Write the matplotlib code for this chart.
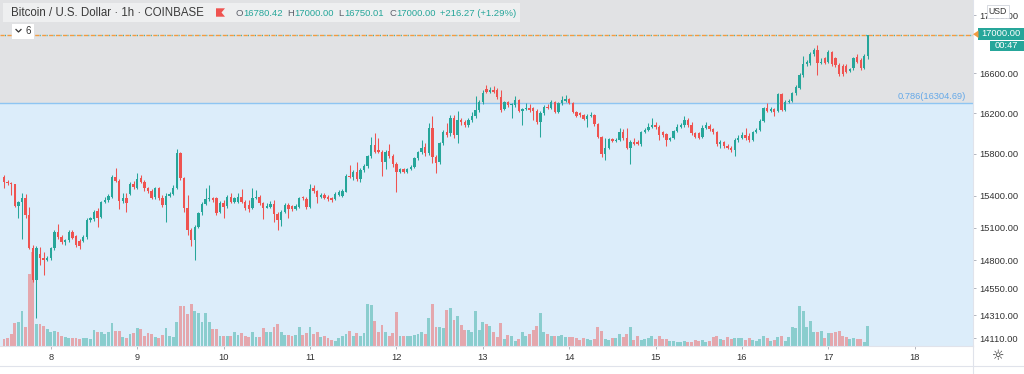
#!/usr/bin/env python3
"""BTC/USD 1h Coinbase candles with volume and the 0.786 fib zone, TradingView look."""
import matplotlib

matplotlib.use("Agg")
import matplotlib.dates as mdates
import matplotlib.pyplot as plt
import matplotlib.ticker as mticker
import matplotlib.transforms as mtransforms
import numpy as np
import pandas as pd
from matplotlib.lines import Line2D
from matplotlib.patches import Polygon, Rectangle

plt.rcParams["font.family"] = ["Liberation Sans", "DejaVu Sans"]

W, H = 1024, 374
PANE_RIGHT = 973      # px, where the price scale starts
PANE_BOTTOM = 345.5   # px, where the time scale starts
UP = "#26a69a"
DOWN = "#ef5350"
TEXT = "#333333"
LINE = "#e0e3eb"

first_bar = "2020-11-07 11:00"

opens = [
    15579, 15532, 15516, 15509, 15305, 15342, 15374, 15217, 14915, 14621,
    14854, 14824, 14803, 14818, 14909, 15056, 15015, 14964, 14985, 15062,
    15025, 14976, 14976, 15015, 15171, 15177, 15258, 15202, 15342, 15358,
    15389, 15579, 15538, 15348, 15374, 15418, 15506, 15475, 15563, 15532,
    15475, 15447, 15383, 15475, 15380, 15311, 15399, 15411, 15469, 15804,
    15563, 15280, 15077, 14985, 15108, 15242, 15320, 15364, 15374, 15380,
    15248, 15333, 15301, 15389, 15342, 15342, 15389, 15342, 15311, 15280,
    15374, 15389, 15327, 15286, 15295, 15317, 15223, 15171, 15248, 15311,
    15301, 15270, 15295, 15380, 15367, 15295, 15469, 15443, 15389, 15405,
    15389, 15380, 15367, 15405, 15399, 15437, 15589, 15579, 15627, 15557,
    15643, 15685, 15778, 15885, 15836, 15820, 15723, 15826, 15778, 15697,
    15627, 15653, 15627, 15653, 15675, 15756, 15814, 15869, 15804, 16048,
    15772, 15723, 15902, 16015, 15999, 16147, 15983, 16130, 16114, 16081,
    16130, 16173, 16230, 16307, 16441, 16414, 16431, 16431, 16363, 16240,
    16307, 16280, 16280, 16330, 16220, 16240, 16253, 16247, 16220, 16114,
    16197, 16263, 16253, 16307, 16207, 16297, 16320, 16340, 16297, 16207,
    16197, 16180, 16141, 16173, 16180, 16088, 15967, 15794, 15859, 15944,
    15925, 15935, 16015, 15951, 15859, 15918, 15912, 15892, 16009, 16032,
    16064, 16081, 16061, 16009, 15990, 15935, 15951, 16022, 16061, 16081,
    16130, 16081, 15999, 15999, 15967, 16055, 16074, 16042, 16009, 15892,
    15912, 15879, 15859, 15836, 15935, 15957, 15983, 15976, 15935, 16009,
    16032, 16120, 16247, 16220, 16240, 16220, 16387, 16230, 16313, 16320,
    16397, 16454, 16583, 16692, 16702, 16794, 16839, 16702, 16753, 16719,
    16815, 16753, 16685, 16678, 16678, 16624, 16651, 16770, 16736, 16651,
    16780.42,
]
highs = [
    15595, 15548, 15525, 15513, 15348, 15421, 15414, 15295, 14939, 14933,
    14924, 14878, 14842, 14924, 15077, 15130, 15037, 15000, 15077, 15077,
    15037, 14994, 15031, 15186, 15202, 15264, 15280, 15348, 15389, 15411,
    15595, 15659, 15557, 15421, 15421, 15532, 15538, 15617, 15595, 15544,
    15484, 15462, 15484, 15484, 15405, 15421, 15437, 15500, 15846, 15820,
    15579, 15405, 15093, 15124, 15248, 15342, 15469, 15500, 15389, 15389,
    15348, 15358, 15405, 15421, 15389, 15421, 15462, 15358, 15358, 15469,
    15453, 15405, 15342, 15327, 15352, 15358, 15248, 15264, 15327, 15327,
    15311, 15317, 15389, 15399, 15389, 15506, 15500, 15453, 15421, 15421,
    15405, 15389, 15430, 15453, 15462, 15601, 15691, 15643, 15723, 15659,
    15697, 15788, 15967, 16000, 15951, 15836, 15836, 15898, 15794, 15717,
    15665, 15659, 15665, 15691, 15772, 15826, 15935, 15902, 16097, 16173,
    15788, 15918, 16032, 16097, 16180, 16180, 16219, 16147, 16130, 16147,
    16207, 16373, 16330, 16431, 16481, 16464, 16474, 16448, 16431, 16320,
    16320, 16300, 16373, 16340, 16253, 16297, 16287, 16263, 16240, 16220,
    16280, 16287, 16330, 16320, 16313, 16373, 16380, 16353, 16307, 16220,
    16207, 16193, 16187, 16213, 16193, 16097, 15976, 15951, 15957, 15957,
    15951, 16055, 16042, 16048, 15935, 15957, 15935, 16022, 16048, 16097,
    16154, 16114, 16081, 16022, 15999, 15967, 16032, 16088, 16097, 16173,
    16147, 16107, 16015, 16009, 16081, 16114, 16088, 16055, 16022, 15935,
    15925, 15892, 15872, 15951, 15983, 16009, 16048, 15999, 16022, 16055,
    16140, 16263, 16297, 16263, 16253, 16397, 16397, 16330, 16340, 16414,
    16481, 16600, 16780, 16736, 16815, 16856, 16891, 16753, 16770, 16839,
    16829, 16770, 16702, 16692, 16692, 16658, 16770, 16794, 16753, 16794,
    17000.00,
]
lows = [
    15475, 15500, 15405, 15295, 15186, 15000, 15186, 14903, 14607, 14282,
    14757, 14666, 14794, 14803, 14893, 15000, 14954, 14945, 14970, 14994,
    14924, 14903, 14964, 15000, 15155, 15161, 15108, 15186, 15327, 15342,
    15380, 15525, 15273, 15327, 15248, 15405, 15462, 15462, 15516, 15447,
    15421, 15364, 15367, 15358, 15295, 15149, 15389, 15405, 15462, 15548,
    15248, 15031, 14933, 14803, 15093, 15217, 15311, 15348, 15342, 15217,
    15233, 15186, 15286, 15327, 15327, 15327, 15327, 15264, 15248, 15273,
    15367, 15311, 15180, 15280, 15286, 15155, 15077, 15115, 15233, 15186,
    15255, 15261, 15280, 15358, 15273, 15286, 15421, 15333, 15374, 15364,
    15348, 15342, 15358, 15399, 15389, 15430, 15563, 15548, 15538, 15532,
    15627, 15665, 15762, 15804, 15804, 15589, 15653, 15756, 15675, 15437,
    15611, 15611, 15614, 15640, 15665, 15739, 15794, 15782, 15788, 15707,
    15611, 15697, 15885, 15967, 15976, 15951, 15902, 16081, 16064, 16064,
    16114, 16147, 16207, 16287, 16397, 16397, 16397, 16340, 16207, 16227,
    16263, 16154, 16263, 16207, 16081, 16230, 16207, 16130, 16088, 15967,
    16180, 16240, 16240, 16197, 16197, 16280, 16307, 16287, 16197, 16160,
    16164, 16127, 16064, 16160, 16074, 15957, 15772, 15739, 15846, 15912,
    15918, 15925, 15935, 15846, 15697, 15885, 15885, 15879, 15999, 16022,
    16055, 16042, 15935, 15967, 15879, 15925, 15941, 16009, 16048, 16064,
    16064, 15983, 15951, 15944, 15951, 16042, 16022, 15990, 15879, 15852,
    15852, 15846, 15820, 15778, 15918, 15944, 15935, 15918, 15925, 15999,
    16022, 16107, 16207, 16207, 16173, 16207, 16220, 16220, 16303, 16307,
    16380, 16441, 16566, 16678, 16685, 16780, 16583, 16692, 16692, 16702,
    16678, 16668, 16576, 16576, 16600, 16610, 16634, 16702, 16634, 16641,
    16750.01,
]
closes = [
    15532, 15516, 15509, 15305, 15342, 15374, 15217, 14915, 14621, 14915,
    14824, 14803, 14824, 14909, 15062, 15015, 14970, 14985, 15062, 15006,
    14939, 14933, 15015, 15171, 15186, 15248, 15186, 15342, 15358, 15396,
    15579, 15538, 15348, 15380, 15327, 15506, 15481, 15557, 15532, 15469,
    15447, 15374, 15475, 15380, 15311, 15399, 15411, 15475, 15804, 15563,
    15280, 15077, 14985, 15108, 15233, 15320, 15364, 15374, 15358, 15233,
    15333, 15295, 15389, 15342, 15374, 15389, 15342, 15280, 15273, 15374,
    15389, 15327, 15286, 15301, 15317, 15223, 15171, 15248, 15311, 15270,
    15270, 15301, 15380, 15374, 15295, 15462, 15443, 15389, 15405, 15380,
    15367, 15358, 15411, 15430, 15443, 15589, 15579, 15627, 15557, 15643,
    15685, 15778, 15885, 15820, 15820, 15723, 15820, 15778, 15697, 15627,
    15649, 15627, 15653, 15675, 15756, 15814, 15859, 15804, 16048, 15772,
    15707, 15902, 16009, 15983, 16147, 15983, 16130, 16114, 16081, 16130,
    16173, 16230, 16307, 16397, 16414, 16431, 16414, 16363, 16230, 16307,
    16280, 16287, 16330, 16220, 16240, 16253, 16230, 16220, 16114, 16197,
    16263, 16253, 16307, 16207, 16297, 16330, 16340, 16297, 16207, 16173,
    16180, 16141, 16173, 16180, 16088, 15967, 15794, 15859, 15944, 15925,
    15935, 16015, 15951, 15859, 15918, 15898, 15898, 16009, 16032, 16064,
    16081, 16061, 15983, 15983, 15935, 15951, 16022, 16064, 16081, 16130,
    16081, 15999, 15967, 15957, 16055, 16081, 16042, 16009, 15892, 15912,
    15879, 15859, 15836, 15935, 15957, 15983, 15951, 15935, 16009, 16032,
    16120, 16247, 16220, 16240, 16213, 16387, 16230, 16313, 16320, 16397,
    16464, 16583, 16692, 16712, 16794, 16839, 16702, 16719, 16702, 16822,
    16692, 16685, 16590, 16590, 16617, 16641, 16753, 16719, 16651, 16780,
    17000.00,
]
volumes = [
    200, 230, 350, 670, 700, 1050, 550, 2150, 2800, 650,
    650, 600, 500, 400, 450, 400, 280, 250, 220, 230,
    230, 200, 220, 230, 200, 480, 400, 400, 350, 400,
    670, 450, 450, 250, 220, 350, 380, 520, 500, 280,
    380, 350, 270, 230, 320, 520, 280, 250, 700, 1200,
    1180, 950, 1250, 1050, 980, 700, 980, 700, 500, 500,
    300, 300, 300, 300, 400, 320, 380, 300, 250, 420,
    250, 250, 520, 420, 420, 550, 650, 420, 330, 320,
    280, 320, 550, 320, 380, 570, 350, 420, 250, 300,
    220, 170, 150, 220, 280, 350, 450, 300, 380, 300,
    380, 1250, 1220, 750, 400, 620, 420, 280, 380, 1000,
    300, 280, 300, 280, 320, 350, 400, 350, 830, 1250,
    550, 550, 520, 1080, 1120, 780, 900, 620, 480, 480,
    400, 1050, 480, 720, 650, 580, 420, 250, 670, 200,
    320, 300, 150, 200, 420, 300, 350, 480, 600, 980,
    420, 350, 280, 300, 300, 320, 250, 250, 250, 220,
    170, 240, 200, 170, 200, 550, 450, 200, 180, 230,
    220, 350, 250, 350, 550, 180, 280, 180, 200, 220,
    300, 200, 300, 200, 200, 130, 130, 100, 120, 150,
    100, 100, 180, 140, 180, 120, 150, 250, 300, 200,
    160, 250, 200, 230, 220, 230, 180, 230, 180, 150,
    200, 300, 220, 150, 180, 250, 300, 150, 250, 550,
    520, 1200, 1050, 550, 750, 420, 420, 450, 230, 380,
    380, 420, 450, 280, 250, 200, 220, 200, 200, 120,
    600,
]

day_ticks = [8, 9, 10, 11, 12, 13, 14, 15, 16, 17, 18]
price_ticks = [14110, 14310, 14550, 14800, 15100, 15400, 15800, 16200, 16600, 17200]
fib_ratio = 0.786
fib_price = 16304.69
change_text = "+216.27 (+1.29%)"
countdown = "00:47"


def fx(px):
    return px / W


def fy(py):
    return 1 - py / H


def fig_rect(fig, x0, y0, x1, y1, **kw):
    fig.add_artist(Rectangle((fx(x0), fy(y1)), (x1 - x0) / W, (y1 - y0) / H,
                             transform=fig.transFigure, zorder=5, **kw))


def main():
    t = mdates.date2num(pd.date_range(first_bar, periods=len(closes), freq="h"))
    o, hi, lo, c = (np.array(a, dtype=float) for a in (opens, highs, lows, closes))
    up = c >= o
    colors = np.where(up, UP, DOWN)
    hour = 1 / 24

    fig = plt.figure(figsize=(W / 100, H / 100), dpi=100)
    fig.patch.set_facecolor("white")
    rect = [0, fy(PANE_BOTTOM), fx(PANE_RIGHT), PANE_BOTTOM / H]
    ax_vol = fig.add_axes(rect, zorder=0)
    ax = fig.add_axes(rect, zorder=1, sharex=ax_vol)
    ax.patch.set_visible(False)
    ax_vol.patch.set_visible(False)

    ax.set_yscale("log")
    ax.set_ylim(14047, 17364)
    ax.set_xlim(t[0] - 1.11 * hour, t[0] + 269.2 * hour)

    # fib zone backgrounds, drawn under the volume bars
    zone = mtransforms.blended_transform_factory(ax_vol.transAxes, ax.transData)
    ax_vol.add_patch(Rectangle((0, fib_price), 1, 1e6, transform=zone,
                               facecolor="#e1e2e4", lw=0, zorder=0))
    ax_vol.add_patch(Rectangle((0, 1), 1, fib_price - 1, transform=zone,
                               facecolor="#dcedfa", lw=0, zorder=0))

    # volume overlay
    vol_colors = np.where(up, UP, DOWN)
    ax_vol.bar(t, volumes, width=0.8 * hour, color=vol_colors, alpha=0.45, lw=0, zorder=1)
    ax_vol.set_ylim(0, 30 * PANE_BOTTOM)
    ax_vol.set_yticks([])
    ax_vol.tick_params(axis="x", which="both", bottom=False, labelbottom=False)
    for s in ax_vol.spines.values():
        s.set_visible(False)

    # fib line and last price line
    ax.axhline(fib_price, color="#8ec5f2", lw=1.0, zorder=1)
    ax.annotate(f"{fib_ratio}({fib_price:.2f})", xy=(0.993, fib_price),
                xycoords=mtransforms.blended_transform_factory(ax.transAxes, ax.transData),
                xytext=(0, 1.2), textcoords="offset points", ha="right", va="bottom",
                fontsize=6.7, color="#64a8e8")
    ax.axhline(c[-1], color="#f39b3f", lw=1.0, ls=(0, (3, 2)), zorder=1)
    ax.axhline(c[-1], color=UP, lw=1.0, ls=(1.7, (0.6, 4.4)), zorder=1)

    # candles
    body_lo = np.minimum(o, c)
    body_h = np.maximum(np.abs(c - o), body_lo * 0.0006)
    ax.vlines(t, lo, hi, colors=colors, lw=0.75, zorder=2)
    ax.bar(t, body_h, bottom=body_lo, width=0.66 * hour, color=colors, lw=0, zorder=3)

    # price scale
    ax.yaxis.tick_right()
    ax.set_yticks(price_ticks)
    ax.set_yticklabels([f"{v:.2f}" for v in price_ticks])
    ax.yaxis.set_minor_locator(mticker.NullLocator())
    ax.tick_params(axis="y", length=2.5, width=0.7, color="#b2b5be", pad=1.8,
                   labelsize=6.7, labelcolor=TEXT)

    # time scale
    day_pos = mdates.date2num([pd.Timestamp(2020, 11, d) for d in day_ticks])
    ax.set_xticks(day_pos)
    ax.set_xticklabels([str(d) for d in day_ticks])
    ax.tick_params(axis="x", length=2.5, width=0.7, color="#b2b5be", pad=3,
                   labelsize=6.7, labelcolor=TEXT)

    for side in ("top", "left"):
        ax.spines[side].set_visible(False)
    for side in ("right", "bottom"):
        ax.spines[side].set_color(LINE)
        ax.spines[side].set_linewidth(0.8)

    fig.add_artist(Line2D([fx(PANE_RIGHT), fx(PANE_RIGHT)], [fy(PANE_BOTTOM), 0],
                          transform=fig.transFigure, color=LINE, lw=0.8))
    fig.add_artist(Line2D([0, 1], [fy(366), fy(366)],
                          transform=fig.transFigure, color=LINE, lw=0.8))

    # header
    fig_rect(fig, 3, 3, 520, 22, facecolor="white", alpha=0.45, lw=0)
    fig.text(fx(11), fy(13.3), "Bitcoin / U.S. Dollar · 1h · COINBASE", fontsize=8.3,
             color="#3a3a3a", ha="left", va="center", zorder=6)
    flag = [(216, 8.3), (225, 8.3), (221.5, 12.5), (225, 16.7), (216, 16.7)]
    fig.add_artist(Polygon([(fx(x), fy(y)) for x, y in flag], closed=True,
                           transform=fig.transFigure, facecolor=DOWN, lw=0, zorder=6))
    ohlc = [("O", 235, "#5d606b"), (f"{o[-1]:.2f}", 243, UP),
            ("H", 287, "#5d606b"), (f"{hi[-1]:.2f}", 294, UP),
            ("L", 338, "#5d606b"), (f"{lo[-1]:.2f}", 344, UP),
            ("C", 389, "#5d606b"), (f"{c[-1]:.2f}", 396.5, UP),
            (change_text, 440, UP)]
    for s, x, col in ohlc:
        fig.text(fx(x), fy(13.3), s, fontsize=6.8, color=col, ha="left", va="center", zorder=6)

    # collapsed indicators box
    fig_rect(fig, 12, 24, 34, 38.5, facecolor="white", lw=0)
    fig.add_artist(Line2D([fx(16), fx(18.5), fx(21)], [fy(29.5), fy(32), fy(29.5)],
                          transform=fig.transFigure, color=TEXT, lw=0.9, zorder=6))
    fig.text(fx(28.3), fy(31.3), "6", fontsize=7, color=TEXT, ha="center", va="center", zorder=6)

    # price scale badges
    fig_rect(fig, 987, 5.5, 1008.5, 18, facecolor="white", edgecolor="#d1d4dc", lw=0.6)
    fig.text(fx(997.7), fy(12), "USD", fontsize=6.3, color=TEXT, ha="center", va="center", zorder=6)
    fig_rect(fig, 978, 28, 1023.5, 39.5, facecolor=UP, lw=0)
    tri = [(973, 34.2), (978.5, 30.5), (978.5, 38)]
    fig.add_artist(Polygon([(fx(x), fy(y)) for x, y in tri], closed=True,
                           transform=fig.transFigure, facecolor="#f39b3f", lw=0, zorder=6))
    fig.text(fx(1000.7), fy(33.9), f"{c[-1]:.2f}", fontsize=6.7, color="white",
             ha="center", va="center", zorder=6)
    fig_rect(fig, 990, 40.5, 1023.5, 50.5, facecolor=UP, lw=0)
    fig.text(fx(1006.7), fy(45.6), countdown, fontsize=6.7, color="white",
             ha="center", va="center", zorder=6)

    fig.text(fx(998), fy(356.5), "\u263c", fontsize=10, color=TEXT,
             ha="center", va="center", family="DejaVu Sans")

    fig.savefig("out.png", dpi=100, facecolor="white")
    plt.close(fig)


if __name__ == "__main__":
    main()
